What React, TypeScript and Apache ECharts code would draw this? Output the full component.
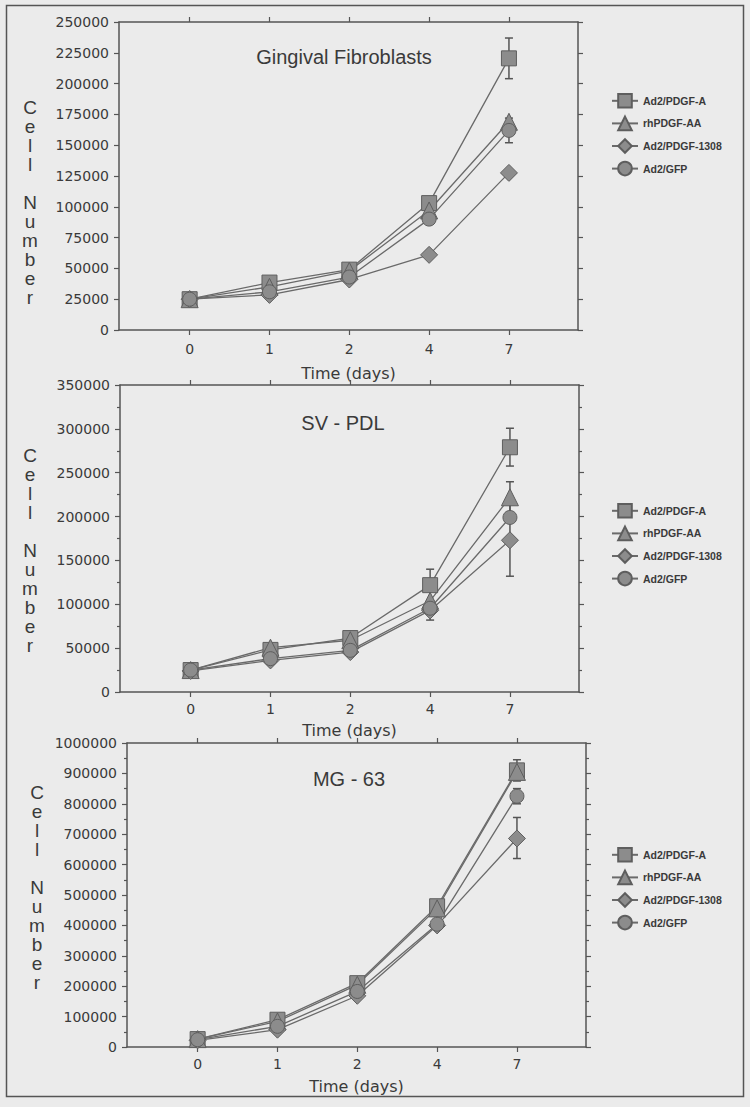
import React, { useEffect, useRef } from "react";
import * as echarts from "echarts";

const dayLabels = ["0", "1", "2", "4", "7"];
const seriesNames = ["Ad2/PDGF-A", "rhPDGF-AA", "Ad2/PDGF-1308", "Ad2/GFP"];
const panelTitles = ["Gingival Fibroblasts", "SV - PDL", "MG - 63"];
const yTitleLetters = ["C", "e", "l", "l", "", "N", "u", "m", "b", "e", "r"];

// Gingival Fibroblasts
const gfA = [25000, 38500, 49000, 103000, 220500];
const gfAA = [25000, 35000, 48000, 97000, 169000];
const gf1308 = [25000, 28500, 41000, 61000, 127500];
const gfGFP = [25000, 31000, 43000, 90000, 162000];
const gfErr = [
  [4, 204000, 237000],
  [4, 152000, 172000],
];

// SV - PDL
const svA = [25000, 48000, 61500, 121800, 279000];
const svAA = [25000, 50500, 59000, 104000, 222000];
const sv1308 = [24000, 36000, 45500, 93000, 173000];
const svGFP = [25000, 38000, 47500, 95500, 199000];
const svErr = [
  [4, 257600, 300700],
  [4, 205000, 239700],
  [4, 132000, 214000],
  [3, 104000, 140000],
  [3, 82000, 104000],
];

// MG - 63
const mgA = [26000, 89700, 210000, 463000, 910000];
const mgAA = [26000, 84000, 204600, 456000, 905000];
const mg1308 = [22000, 57000, 168500, 400000, 686000];
const mgGFP = [24000, 68000, 182700, 404000, 825000];
const mgErr = [
  [4, 875000, 945000],
  [4, 800000, 850000],
  [4, 620000, 755000],
];

const yMax = [250000, 350000, 1000000];
const yInterval = [25000, 50000, 100000];
const yMinor = [false, true, true];

const BG = "#ebebeb";
const AX = "#555555";
const TXT = "#3a3a3a";
const LINE = "#6a6a6a";
const FILL = "#8c8c8c";
const EDGE = "#5e5e5e";

const symbols = ["rect", "triangle", "diamond", "circle"];
const symbolSizes = [15, 17, 17, 14];

// layout per panel
const grids = [
  { left: 119, top: 22, width: 459, height: 308 },
  { left: 120, top: 385, width: 459, height: 307 },
  { left: 127, top: 743, width: 459, height: 304 },
];
const labelGaps = [12, 10, 10];
const nameGaps = [35, 30, 31];
const titlePos = [
  [344, 57],
  [343, 423],
  [349, 779],
];
const cellPos = [
  [30, 107],
  [30, 455],
  [37, 792],
];
const legendTop = [88, 498, 842];

export default function App() {
  const ref = useRef<HTMLDivElement>(null);
  useEffect(() => {
    if (!ref.current) return;
    const chart = echarts.init(ref.current, null, { renderer: "svg" });
    const panels = [
      { vals: [gfA, gfAA, gf1308, gfGFP], err: gfErr },
      { vals: [svA, svAA, sv1308, svGFP], err: svErr },
      { vals: [mgA, mgAA, mg1308, mgGFP], err: mgErr },
    ];
    const xAxes: any[] = [];
    const yAxes: any[] = [];
    const series: any[] = [];
    const legends: any[] = [];
    const graphics: any[] = [];
    const tickVals = [0, 1, 2, 3, 4];

    panels.forEach((p, i) => {
      const baseX = {
        type: "value",
        gridIndex: i,
        min: -0.885,
        max: 4.865,
        splitLine: { show: false },
        axisLine: { show: true, onZero: false, lineStyle: { color: AX, width: 1.5 } },
        axisTick: { show: true, inside: false, length: 5, customValues: tickVals, lineStyle: { color: AX, width: 1.2 } },
      };
      xAxes.push({
        ...baseX,
        position: "bottom",
        name: "Time (days)",
        nameLocation: "middle",
        nameGap: nameGaps[i],
        nameTextStyle: { fontFamily: "DejaVu Sans", fontSize: 16, color: TXT },
        axisLabel: {
          customValues: tickVals,
          formatter: (v: number) => dayLabels[Math.round(v)],
          margin: labelGaps[i],
          fontFamily: "DejaVu Sans",
          fontSize: 14,
          color: TXT,
        },
      });
      xAxes.push({
        ...baseX,
        position: "top",
        axisLabel: { show: false },
      });
      const baseY = {
        type: "value",
        gridIndex: i,
        min: 0,
        max: yMax[i],
        interval: yInterval[i],
        splitLine: { show: false },
        minorTick: { show: yMinor[i], splitNumber: 2, length: 3, lineStyle: { color: AX, width: 1.2 } },
        minorSplitLine: { show: false },
        axisLine: { show: true, onZero: false, lineStyle: { color: AX, width: 1.5 } },
        axisTick: { show: true, inside: false, length: 5, lineStyle: { color: AX, width: 1.2 } },
      };
      yAxes.push({
        ...baseY,
        position: "left",
        axisLabel: {
          formatter: (v: number) => String(v),
          margin: 10,
          fontFamily: "DejaVu Sans",
          fontSize: 14,
          color: TXT,
        },
      });
      yAxes.push({
        ...baseY,
        position: "right",
        axisLabel: { show: false },
      });

      series.push({
        type: "custom",
        xAxisIndex: i * 2,
        yAxisIndex: i * 2,
        z: 1,
        silent: true,
        data: p.err,
        renderItem: (params: any, api: any) => {
          const x = api.value(0);
          const lo = api.coord([x, api.value(1)]);
          const hi = api.coord([x, api.value(2)]);
          const cw = 4;
          const st = { stroke: "#555", lineWidth: 1.5 };
          return {
            type: "group",
            children: [
              { type: "line", shape: { x1: lo[0], y1: lo[1], x2: hi[0], y2: hi[1] }, style: st },
              { type: "line", shape: { x1: lo[0] - cw, y1: lo[1], x2: lo[0] + cw, y2: lo[1] }, style: st },
              { type: "line", shape: { x1: hi[0] - cw, y1: hi[1], x2: hi[0] + cw, y2: hi[1] }, style: st },
            ],
          };
        },
      });

      p.vals.forEach((vals, k) => {
        series.push({
          type: "line",
          name: seriesNames[k],
          xAxisIndex: i * 2,
          yAxisIndex: i * 2,
          z: 2,
          data: vals.map((v, idx) => [idx, v]),
          symbol: symbols[k],
          symbolSize: symbolSizes[k],
          showAllSymbol: true,
          lineStyle: { color: LINE, width: 1.3 },
          itemStyle: { color: FILL, borderColor: EDGE, borderWidth: 1 },
          emphasis: { disabled: true },
        });
      });

      legends.push({
        orient: "vertical",
        left: 606,
        top: legendTop[i],
        itemWidth: 26,
        itemHeight: 17,
        itemGap: 7,
        selectedMode: false,
        data: seriesNames,
        textStyle: {
          fontFamily: "Liberation Sans",
          fontWeight: "bold",
          fontSize: 10.5,
          color: TXT,
        },
      });

      graphics.push({
        type: "text",
        x: titlePos[i][0],
        y: titlePos[i][1],
        style: {
          text: panelTitles[i],
          fontFamily: "Liberation Sans",
          fontSize: 20,
          fill: TXT,
          align: "center",
          verticalAlign: "middle",
        },
      });
      yTitleLetters.forEach((ch, j) => {
        if (!ch) return;
        graphics.push({
          type: "text",
          x: cellPos[i][0],
          y: cellPos[i][1] + j * 19,
          style: {
            text: ch,
            fontFamily: "Liberation Sans",
            fontSize: 19,
            fill: TXT,
            align: "center",
            verticalAlign: "middle",
          },
        });
      });
    });

    graphics.push({
      type: "rect",
      shape: { x: 6.5, y: 5.5, width: 737, height: 1091 },
      style: { fill: "none", stroke: "#555", lineWidth: 1.5 },
      z: -1,
    });

    chart.setOption({
      animation: false,
      backgroundColor: BG,
      grid: grids.map((g) => ({ ...g, containLabel: false })),
      xAxis: xAxes,
      yAxis: yAxes,
      legend: legends,
      series,
      graphic: graphics,
    });
    return () => chart.dispose();
  }, []);
  return (
    <div
      ref={ref}
      style={{ position: "absolute", left: 0, top: 0, width: 750, height: 1107 }}
    />
  );
}
